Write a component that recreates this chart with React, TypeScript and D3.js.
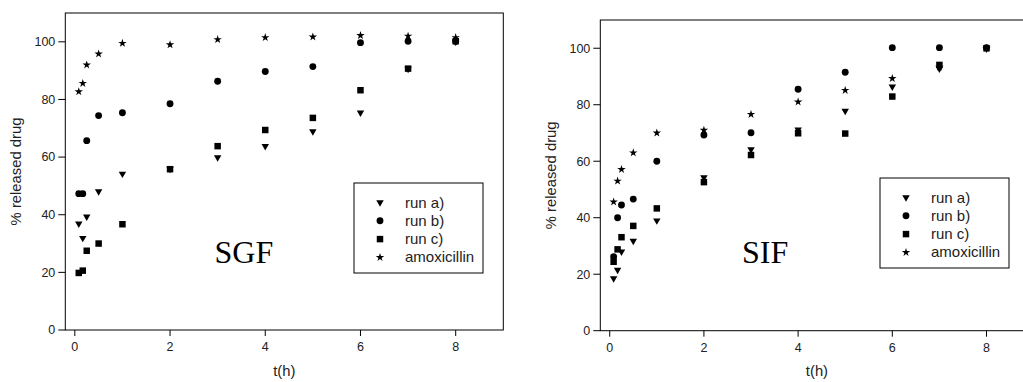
import * as d3 from "d3";

const times = [0.083, 0.167, 0.25, 0.5, 1, 2, 3, 4, 5, 6, 7, 8];

const seriesNames = ["run a)", "run b)", "run c)", "amoxicillin"];

// SGF panel values (% released)
const sgfRunA = [36.9, 31.9, 39.3, 48.1, 54.2, 55.9, 59.9, 63.8, 68.9, 75.4, 90.6, 100];
const sgfRunB = [47.3, 47.3, 65.7, 74.4, 75.4, 78.5, 86.3, 89.7, 91.4, 99.7, 100.2, 100.2];
const sgfRunC = [19.8, 20.6, 27.5, 30, 36.7, 55.8, 63.8, 69.4, 73.6, 83.2, 90.7, 100.2];
const sgfAmox = [82.7, 85.6, 92, 95.8, 99.5, 99, 100.8, 101.5, 101.7, 102.2, 102, 101.5];

// SIF panel values (% released)
const sifRunA = [18.5, 21.5, 28, 31.8, 39, 54.3, 64.2, 71.2, 77.8, 86.4, 92.8, 99.8];
const sifRunB = [26.2, 40, 44.5, 46.6, 60, 69.3, 70.1, 85.5, 91.5, 100.2, 100.2, 100.2];
const sifRunC = [24.4, 28.8, 33.1, 37.1, 43.3, 52.6, 62.2, 69.9, 69.8, 82.9, 94.1, 100];
const sifAmox = [45.6, 53, 57.1, 63, 70, 71, 76.6, 81, 85.1, 89.3, 93.3, 100];

const xTicks = [0, 2, 4, 6, 8];
const yTicks = [0, 20, 40, 60, 80, 100];

const symbolTypes = [d3.symbolTriangle, d3.symbolCircle, d3.symbolSquare, d3.symbolStar];
const symbolSizes = [24, 37, 42, 22];
const symbolRotate = [180, 0, 0, 0];

const sans = "'Liberation Sans', Arial, sans-serif";

interface PanelProps {
  left: number;
  top: number;
  right: number;
  bottom: number;
  series: number[][];
  label: string;
  labelAt: [number, number];
  legendX: number;
  legendY: number;
}

function Marker({ i, x, y }: { i: number; x: number; y: number }) {
  const d = d3.symbol().type(symbolTypes[i]).size(symbolSizes[i])() ?? "";
  return <path d={d} transform={`translate(${x},${y}) rotate(${symbolRotate[i]})`} fill="#000" />;
}

function Panel({ left, top, right, bottom, series, label, labelAt, legendX, legendY }: PanelProps) {
  const x = d3.scaleLinear().domain([-0.2, 9]).range([left, right]);
  const y = d3.scaleLinear().domain([0, 110]).range([bottom, top]);
  const midY = (top + bottom) / 2;
  const midX = (left + right) / 2;

  return (
    <g>
      <rect x={left} y={top} width={right - left} height={bottom - top} fill="none" stroke="#000" strokeWidth={1} />
      {yTicks.map((t) => (
        <g key={t}>
          <line x1={left - 7} x2={left} y1={y(t)} y2={y(t)} stroke="#000" />
          <text x={left - 10} y={y(t) + 4.3} textAnchor="end" fontSize={12.5} fontFamily={sans} fill="#222">{t}</text>
        </g>
      ))}
      {xTicks.map((t) => (
        <g key={t}>
          <line x1={x(t)} x2={x(t)} y1={bottom} y2={bottom + 6} stroke="#000" />
          <text x={x(t)} y={bottom + 21} textAnchor="middle" fontSize={12.5} fontFamily={sans} fill="#222">{t}</text>
        </g>
      ))}
      <text
        transform={`translate(${left - 44},${midY}) rotate(-90)`}
        textAnchor="middle"
        fontSize={14.8}
        fontFamily={sans}
        fill="#222"
      >
        % released drug
      </text>
      <text x={midX} y={376} textAnchor="middle" fontSize={14.8} fontFamily={sans} fill="#222">t(h)</text>
      <text
        x={x(labelAt[0])}
        y={y(labelAt[1])}
        textAnchor="middle"
        fontSize={32}
        fontFamily="'Liberation Serif', 'Times New Roman', serif"
        fill="#000"
      >
        {label}
      </text>
      {series.map((vals, si) => (
        <g key={si}>
          {vals.map((v, k) => (
            <Marker key={k} i={si} x={x(times[k])} y={y(v)} />
          ))}
        </g>
      ))}
      <rect x={legendX} y={legendY} width={129} height={90} fill="#fff" stroke="#000" />
      {seriesNames.map((n, i) => (
        <g key={n}>
          <Marker i={i} x={legendX + 26} y={legendY + 19.5 + i * 18.3} />
          <text x={legendX + 51} y={legendY + 24.5 + i * 18.3} fontSize={15} fontFamily={sans} fill="#222">{n}</text>
        </g>
      ))}
    </g>
  );
}

export default function App() {
  return (
    <svg
      width={1023}
      height={382}
      viewBox="0 0 1023 382"
      style={{ position: "absolute", left: 0, top: 0, background: "#fff" }}
    >
      <Panel
        left={65.3}
        top={13}
        right={503.3}
        bottom={330}
        series={[sgfRunA, sgfRunB, sgfRunC, sgfAmox]}
        label="SGF"
        labelAt={[3.55, 23.2]}
        legendX={354}
        legendY={183}
      />
      <Panel
        left={600.3}
        top={20}
        right={1033.6}
        bottom={330.7}
        series={[sifRunA, sifRunB, sifRunC, sifAmox]}
        label="SIF"
        labelAt={[3.3, 24]}
        legendX={880}
        legendY={178}
      />
    </svg>
  );
}
